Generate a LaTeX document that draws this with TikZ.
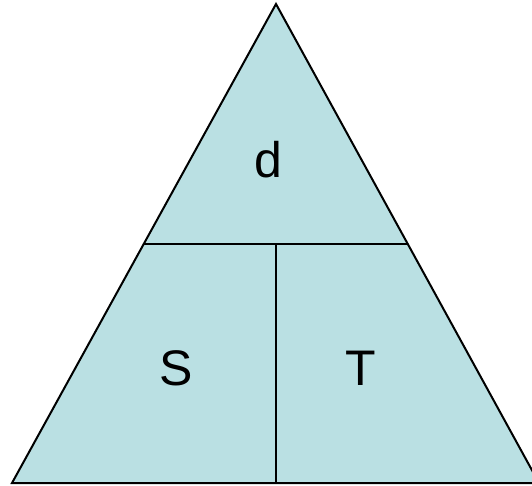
\documentclass[tikz,border=0pt]{standalone}
\usepackage{fontspec}
\setmainfont{Liberation Sans}
\definecolor{tri}{HTML}{BAE0E3}
\begin{document}
\begin{tikzpicture}[x=1pt,y=-1pt,
  edge/.style={draw=black,line width=2pt},
  lab/.style={font=\fontsize{50}{56}\selectfont,inner sep=0pt,anchor=center}]
\useasboundingbox (0,0) rectangle (532,486);
\clip (0,0) rectangle (532,486);
\coordinate (A) at (276,4);
\coordinate (BL) at (12,483);
\coordinate (BR) at (539,483);
\coordinate (ML) at (144,243.5);
\coordinate (MR) at (407.5,243.5);
\coordinate (MM) at (276,243.5);
\coordinate (BM) at (276,483);
\fill[tri] (A) -- (BL) -- (BR) -- cycle;
\draw[edge,line join=miter] (A) -- (BL) -- (BR) -- cycle;
\draw[edge] (ML) -- (MR);
\draw[edge] (MM) -- (BM);
\node[lab] (d) at (268,160) {d};
\node[lab] (s) at (176,368) {S};
\node[lab] (t) at (361,368) {T};
\end{tikzpicture}
\end{document}
